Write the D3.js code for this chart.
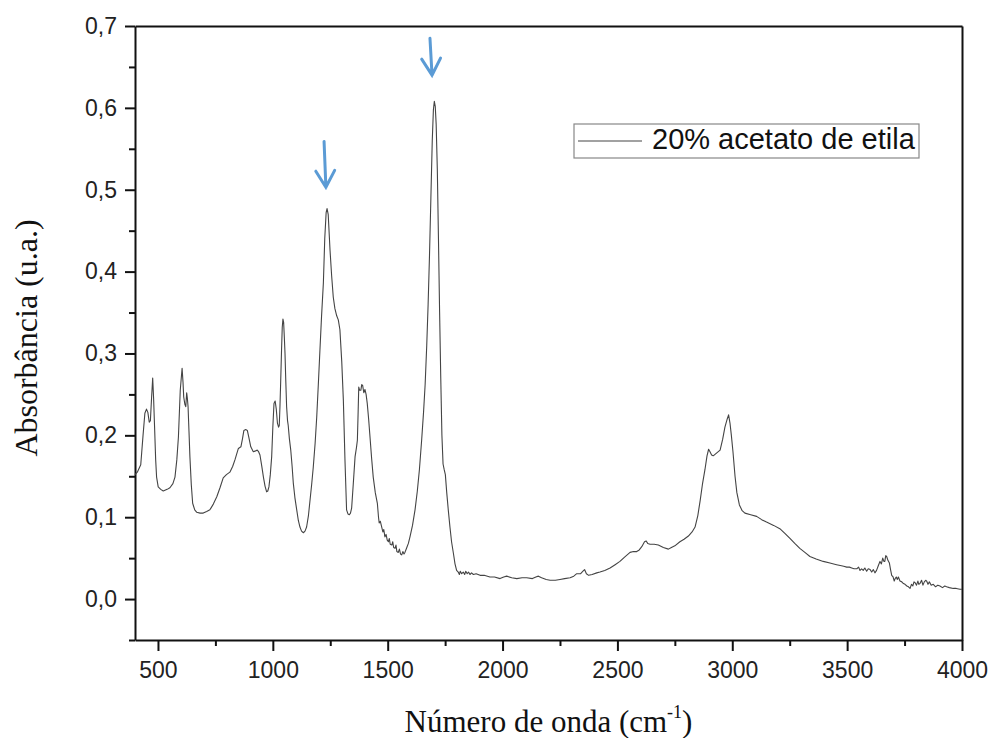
<!DOCTYPE html>
<html>
<head>
<meta charset="utf-8">
<script src="https://cdn.jsdelivr.net/npm/d3@7"></script>
<style>
  body { margin: 0; background: #fff; }
  .tickLabel text { font-family: "Liberation Sans", Arial, sans-serif; font-size: 23px; fill: #222; }
  .axisTitle { font-family: "Liberation Serif", "Times New Roman", serif; fill: #111; }
</style>
</head>
<body>
<svg id="svg_ftir" width="991" height="738"></svg>
<script>
// wavenumber (cm-1)
const wavenumber = [
  400, 410, 425, 435, 443, 450, 456, 462, 467, 472, 477, 481, 485, 490, 494, 501, 512, 523, 540, 552,
  565, 574, 582, 589, 597, 605, 609, 612, 617, 621, 625, 628, 631, 635, 639, 645, 651, 660, 669, 683,
  697, 712, 726, 741, 756, 770, 784, 798, 813, 825, 835, 850, 861, 868, 874, 882, 889, 896, 904, 915,
  925, 932, 938, 944, 952, 959, 966, 973, 978, 983, 989, 995, 1000, 1005, 1010, 1015, 1020, 1025, 1028, 1031,
  1034, 1038, 1041, 1044, 1047, 1050, 1053, 1056, 1060, 1064, 1067, 1072, 1078, 1084, 1089, 1096, 1104, 1111, 1118, 1125,
  1133, 1140, 1147, 1155, 1162, 1169, 1176, 1184, 1191, 1198, 1205, 1212, 1220, 1226, 1232, 1236, 1241, 1249, 1256, 1263,
  1270, 1278, 1285, 1292, 1300, 1307, 1314, 1321, 1327, 1333, 1338, 1343, 1350, 1358, 1364, 1368, 1371, 1374, 1378, 1383,
  1387, 1391, 1396, 1401, 1406, 1411, 1417, 1423, 1430, 1437, 1446, 1455, 1460, 1463, 1468, 1474, 1479, 1483, 1488, 1493,
  1498, 1503, 1507, 1511, 1518, 1522, 1526, 1532, 1536, 1540, 1546, 1551, 1556, 1561, 1566, 1571, 1575, 1582, 1590, 1597,
  1608, 1619, 1629, 1638, 1648, 1656, 1663, 1670, 1676, 1682, 1688, 1694, 1699, 1703, 1707, 1711, 1716, 1721, 1726, 1731,
  1736, 1741, 1746, 1751, 1757, 1764, 1771, 1778, 1786, 1793, 1800, 1807, 1812, 1816, 1822, 1829, 1835, 1840, 1846, 1852,
  1858, 1865, 1873, 1885, 1902, 1920, 1945, 1965, 1989, 2005, 2018, 2040, 2062, 2085, 2105, 2130, 2145, 2156, 2170, 2190,
  2207, 2230, 2250, 2270, 2294, 2310, 2323, 2340, 2350, 2357, 2365, 2375, 2390, 2410, 2424, 2445, 2468, 2490, 2511, 2530,
  2555, 2570, 2584, 2595, 2606, 2618, 2625, 2632, 2642, 2660, 2678, 2700, 2722, 2735, 2750, 2772, 2790, 2809, 2825, 2838,
  2850, 2860, 2870, 2881, 2890, 2897, 2903, 2910, 2917, 2930, 2947, 2958, 2968, 2978, 2984, 2990, 2996, 3003, 3012, 3020,
  3031, 3043, 3055, 3080, 3106, 3128, 3149, 3180, 3207, 3230, 3251, 3272, 3294, 3316, 3338, 3365, 3396, 3425, 3454, 3470,
  3485, 3498, 3510, 3520, 3530, 3542, 3550, 3556, 3563, 3570, 3577, 3585, 3592, 3600, 3607, 3614, 3621, 3628, 3636, 3643,
  3649, 3655, 3660, 3664, 3668, 3672, 3678, 3684, 3689, 3694, 3700, 3705, 3709, 3714, 3718, 3723, 3730, 3738, 3745, 3752,
  3760, 3767, 3774, 3780, 3786, 3791, 3796, 3802, 3808, 3812, 3817, 3824, 3830, 3836, 3842, 3846, 3852, 3858, 3866, 3875,
  3885, 3895, 3904, 3915, 3925, 3933, 3945, 3962, 3975, 3991, 4000
];

// absorbance (u.a.), same order as wavenumber
const absorbance = [
  0.152, 0.155, 0.164, 0.200, 0.227, 0.232, 0.228, 0.216, 0.218, 0.245, 0.270, 0.245, 0.212, 0.170, 0.149, 0.137, 0.134, 0.132, 0.134, 0.136,
  0.141, 0.149, 0.170, 0.198, 0.255, 0.282, 0.265, 0.247, 0.238, 0.235, 0.252, 0.245, 0.235, 0.205, 0.174, 0.140, 0.117, 0.109, 0.106, 0.105,
  0.105, 0.107, 0.109, 0.116, 0.125, 0.136, 0.148, 0.152, 0.155, 0.162, 0.170, 0.184, 0.186, 0.196, 0.206, 0.207, 0.206, 0.197, 0.186, 0.180,
  0.181, 0.182, 0.180, 0.176, 0.162, 0.149, 0.138, 0.131, 0.132, 0.137, 0.152, 0.174, 0.210, 0.239, 0.242, 0.232, 0.215, 0.210, 0.212, 0.235,
  0.264, 0.305, 0.332, 0.342, 0.338, 0.320, 0.300, 0.270, 0.235, 0.218, 0.212, 0.196, 0.182, 0.162, 0.142, 0.124, 0.109, 0.096, 0.088, 0.083,
  0.081, 0.083, 0.088, 0.102, 0.121, 0.140, 0.161, 0.190, 0.222, 0.262, 0.304, 0.345, 0.386, 0.440, 0.472, 0.477, 0.470, 0.426, 0.395, 0.369,
  0.355, 0.346, 0.341, 0.329, 0.290, 0.243, 0.170, 0.109, 0.104, 0.103, 0.105, 0.111, 0.140, 0.174, 0.185, 0.194, 0.225, 0.259, 0.255, 0.255,
  0.262, 0.261, 0.252, 0.256, 0.250, 0.239, 0.220, 0.198, 0.172, 0.149, 0.130, 0.117, 0.100, 0.093, 0.095, 0.088, 0.082, 0.085, 0.076, 0.079,
  0.072, 0.070, 0.074, 0.067, 0.066, 0.070, 0.063, 0.062, 0.066, 0.058, 0.057, 0.061, 0.055, 0.054, 0.058, 0.055, 0.057, 0.062, 0.068, 0.076,
  0.090, 0.109, 0.132, 0.158, 0.195, 0.228, 0.262, 0.310, 0.360, 0.420, 0.490, 0.560, 0.598, 0.608, 0.602, 0.580, 0.525, 0.440, 0.350, 0.270,
  0.200, 0.165, 0.158, 0.152, 0.130, 0.108, 0.088, 0.070, 0.056, 0.043, 0.035, 0.033, 0.030, 0.034, 0.031, 0.033, 0.030, 0.034, 0.031, 0.033,
  0.030, 0.032, 0.030, 0.031, 0.029, 0.029, 0.027, 0.027, 0.025, 0.027, 0.028, 0.026, 0.025, 0.026, 0.026, 0.025, 0.027, 0.028, 0.026, 0.024,
  0.023, 0.023, 0.024, 0.025, 0.026, 0.028, 0.031, 0.031, 0.034, 0.036, 0.031, 0.029, 0.030, 0.032, 0.033, 0.035, 0.038, 0.042, 0.046, 0.051,
  0.057, 0.058, 0.058, 0.060, 0.064, 0.070, 0.071, 0.068, 0.067, 0.067, 0.066, 0.063, 0.061, 0.063, 0.065, 0.070, 0.073, 0.077, 0.082, 0.088,
  0.102, 0.120, 0.140, 0.158, 0.175, 0.183, 0.180, 0.176, 0.175, 0.178, 0.182, 0.195, 0.210, 0.220, 0.225, 0.215, 0.200, 0.180, 0.150, 0.130,
  0.115, 0.108, 0.105, 0.103, 0.101, 0.097, 0.094, 0.090, 0.086, 0.080, 0.074, 0.068, 0.062, 0.057, 0.052, 0.049, 0.046, 0.044, 0.042, 0.041,
  0.040, 0.039, 0.039, 0.038, 0.037, 0.037, 0.039, 0.035, 0.037, 0.035, 0.038, 0.034, 0.037, 0.036, 0.033, 0.036, 0.032, 0.035, 0.041, 0.046,
  0.043, 0.050, 0.046, 0.046, 0.053, 0.052, 0.047, 0.044, 0.036, 0.029, 0.027, 0.022, 0.025, 0.027, 0.024, 0.027, 0.022, 0.021, 0.019, 0.018,
  0.016, 0.015, 0.013, 0.018, 0.016, 0.021, 0.020, 0.017, 0.022, 0.018, 0.019, 0.023, 0.017, 0.021, 0.023, 0.022, 0.018, 0.021, 0.017, 0.018,
  0.015, 0.017, 0.016, 0.014, 0.016, 0.015, 0.014, 0.013, 0.013, 0.012, 0.012
];

const xTicks = [500, 1000, 1500, 2000, 2500, 3000, 3500, 4000];
const xMinorTicks = [750, 1250, 1750, 2250, 2750, 3250, 3750];
const yTicks = [0, 0.1, 0.2, 0.3, 0.4, 0.5, 0.6, 0.7];
const yMinorTicks = [-0.05, 0.05, 0.15, 0.25, 0.35, 0.45, 0.55, 0.65];

const seriesName = '20% acetato de etila';

// blue arrows marking the two main bands: [wavenumber top, abs top, wavenumber tip, abs tip]
const arrowMarks = [
  [1223, 0.559, 1231, 0.503],
  [1684, 0.685, 1693, 0.640]
];

const plotLeft = 135, plotRight = 962, plotTop = 26, plotBottom = 640;

const svg = d3.select('#svg_ftir');

const xscale = d3.scaleLinear()
  .domain([400, 4000])
  .range([plotLeft, plotRight]);

const yscale = d3.scaleLinear()
  .domain([-0.05, 0.7])
  .range([plotBottom, plotTop]);

const comma = (d) => d3.format('.1f')(d).replace('.', ',');

// minor ticks first, no labels
svg.append('g')
  .attr('transform', `translate(0, ${plotBottom})`)
  .call(d3.axisBottom(xscale).tickValues(xMinorTicks).tickSize(6).tickSizeOuter(0).tickFormat(''))
  .call((g) => g.select('.domain').remove())
  .call((g) => g.selectAll('line').attr('stroke', '#111').attr('stroke-width', 2));

svg.append('g')
  .attr('transform', `translate(${plotLeft}, 0)`)
  .call(d3.axisLeft(yscale).tickValues(yMinorTicks).tickSize(6).tickSizeOuter(0).tickFormat(''))
  .call((g) => g.select('.domain').remove())
  .call((g) => g.selectAll('line').attr('stroke', '#111').attr('stroke-width', 2));

// major ticks with labels
svg.append('g')
  .attr('class', 'tickLabel')
  .attr('transform', `translate(0, ${plotBottom})`)
  .call(d3.axisBottom(xscale).tickValues(xTicks).tickSize(11).tickSizeOuter(0).tickPadding(11).tickFormat(d3.format('d')))
  .call((g) => g.select('.domain').attr('stroke', '#111').attr('stroke-width', 2))
  .call((g) => g.selectAll('line').attr('stroke', '#111').attr('stroke-width', 2));

svg.append('g')
  .attr('class', 'tickLabel')
  .attr('transform', `translate(${plotLeft}, 0)`)
  .call(d3.axisLeft(yscale).tickValues(yTicks).tickSize(10).tickSizeOuter(0).tickPadding(8).tickFormat(comma))
  .call((g) => g.select('.domain').attr('stroke', '#111').attr('stroke-width', 2))
  .call((g) => g.selectAll('line').attr('stroke', '#111').attr('stroke-width', 2));

// top and right edges of the frame
svg.append('g')
  .attr('transform', `translate(0, ${plotTop})`)
  .call(d3.axisTop(xscale).tickValues([]).tickSizeOuter(0))
  .call((g) => g.select('.domain').attr('stroke', '#111').attr('stroke-width', 2));

svg.append('g')
  .attr('transform', `translate(${plotRight}, 0)`)
  .call(d3.axisRight(yscale).tickValues([]).tickSizeOuter(0))
  .call((g) => g.select('.domain').attr('stroke', '#111').attr('stroke-width', 2));

// spectrum
const points = wavenumber.map((w, i) => [w, absorbance[i]]);

const line = d3.line()
  .x((d) => xscale(d[0]))
  .y((d) => yscale(d[1]));

svg.append('path')
  .datum(points)
  .attr('d', line)
  .attr('fill', 'none')
  .attr('stroke', '#444')
  .attr('stroke-width', 1.1)
  .attr('stroke-linejoin', 'round');

// arrows
const arrows = svg.append('g')
  .attr('stroke', '#5b9bd5')
  .attr('stroke-width', 3)
  .attr('stroke-linecap', 'round')
  .attr('fill', 'none');

arrowMarks.forEach((a) => {
  const x1 = xscale(a[0]), y1 = yscale(a[1]);
  const x2 = xscale(a[2]), y2 = yscale(a[3]);
  const ang = Math.atan2(y2 - y1, x2 - x1);
  const head = 19, spread = 0.52;
  arrows.append('path')
    .attr('d', `M${x1},${y1}L${x2},${y2}` +
      `M${x2 - head * Math.cos(ang - spread)},${y2 - head * Math.sin(ang - spread)}L${x2},${y2}` +
      `L${x2 - head * Math.cos(ang + spread)},${y2 - head * Math.sin(ang + spread)}`);
});

// legend
const legend = svg.append('g');

legend.append('rect')
  .attr('x', 574)
  .attr('y', 124)
  .attr('width', 345)
  .attr('height', 34)
  .attr('fill', '#fff')
  .attr('stroke', '#888')
  .attr('stroke-width', 1.2);

legend.append('line')
  .attr('x1', 578)
  .attr('x2', 642)
  .attr('y1', 141)
  .attr('y2', 141)
  .attr('stroke', '#444')
  .attr('stroke-width', 1.1);

legend.append('text')
  .text(seriesName)
  .attr('x', 652)
  .attr('y', 149)
  .attr('font-family', '"Liberation Sans", Arial, sans-serif')
  .attr('font-size', 29)
  .attr('fill', '#111');

// axis titles
const xTitle = svg.append('text')
  .attr('class', 'axisTitle')
  .attr('x', (plotLeft + plotRight) / 2)
  .attr('y', 732)
  .attr('text-anchor', 'middle')
  .attr('font-size', 31);

xTitle.append('tspan').text('Número de onda (cm');
xTitle.append('tspan').text('-1').attr('font-size', 18).attr('dy', -14);
xTitle.append('tspan').text(')').attr('dy', 14);

svg.append('text')
  .attr('class', 'axisTitle')
  .attr('transform', 'translate(37, 338) rotate(-90)')
  .attr('text-anchor', 'middle')
  .attr('font-size', 32)
  .text('Absorbância (u.a.)');
</script>
</body>
</html>
